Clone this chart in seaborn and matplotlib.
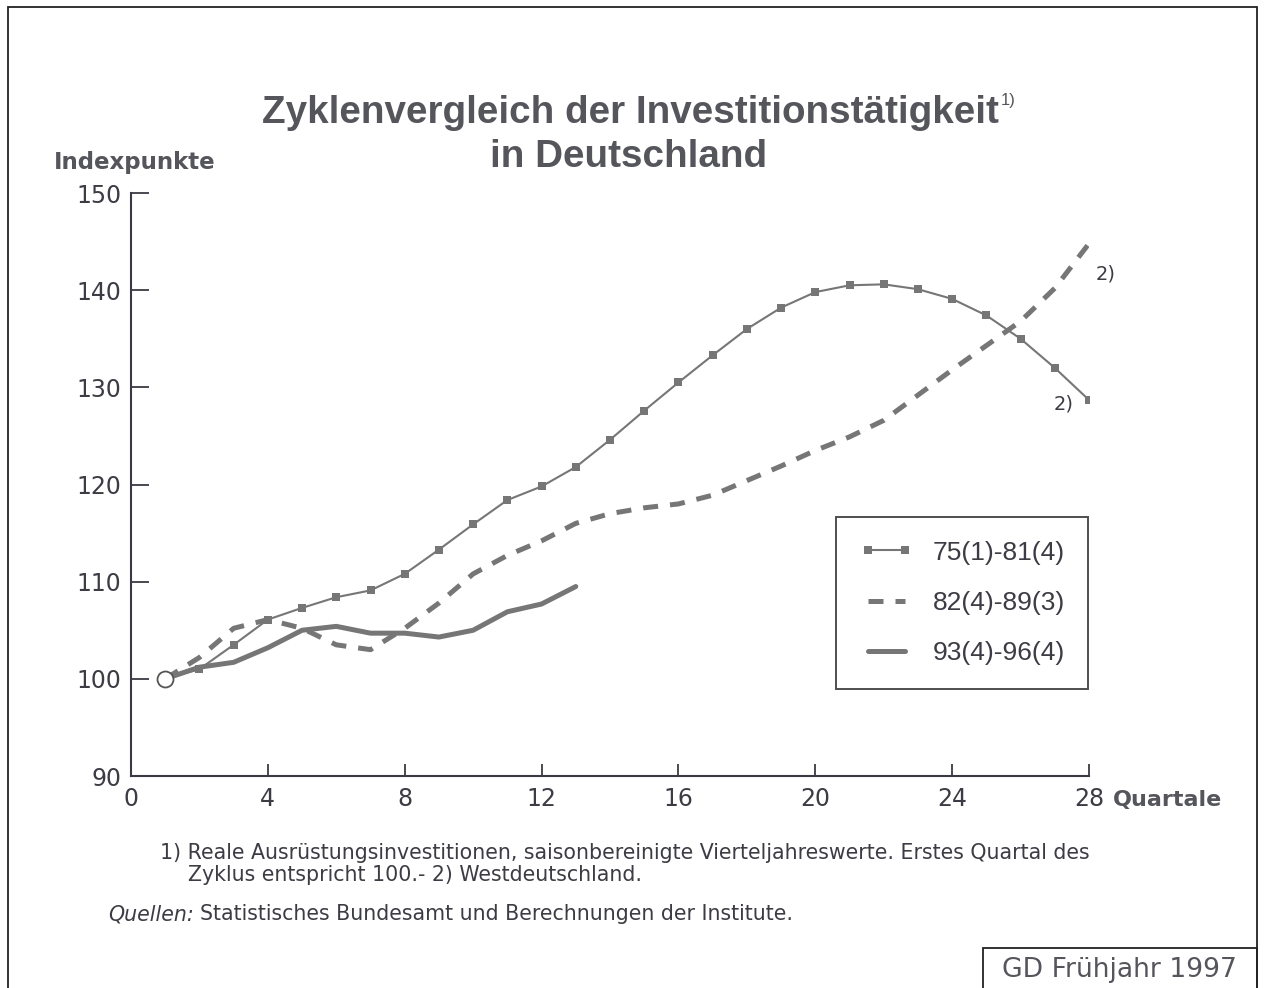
"""
Zyklenvergleich der Investitionstätigkeit in Deutschland (GD Frühjahr 1997)
Line chart of three investment cycles, index: first quarter = 100.
"""

import matplotlib
matplotlib.use("Agg")   # headless
import matplotlib.pyplot as plt
from matplotlib.patches import Rectangle
import seaborn as sns

# ─────────────────────────────────────────────────────────────────────────────
#  DATA
# ─────────────────────────────────────────────────────────────────────────────

quarters_long  = list(range(1, 29))
quarters_short = list(range(1, 14))

cycle_75_81 = [100.0, 101.0, 103.5, 106.1, 107.3, 108.4, 109.1, 110.8, 113.3, 115.9,
               118.4, 119.8, 121.8, 124.6, 127.6, 130.5, 133.3, 136.0, 138.2, 139.8,
               140.5, 140.6, 140.1, 139.1, 137.4, 135.0, 132.0, 128.7]
cycle_82_89 = [100.0, 102.2, 105.2, 106.1, 105.2, 103.5, 103.0, 105.2, 107.8, 110.8,
               112.7, 114.2, 116.0, 117.0, 117.6, 118.0, 118.9, 120.4, 121.9, 123.5,
               124.9, 126.6, 129.2, 131.8, 134.3, 136.8, 140.2, 144.8]
cycle_93_96 = [100.0, 101.2, 101.7, 103.2, 105.0, 105.4, 104.7, 104.7, 104.3, 105.0,
               106.9, 107.7, 109.5]

series_labels = ["75(1)-81(4)", "82(4)-89(3)", "93(4)-96(4)"]
x_ticks = [0, 4, 8, 12, 16, 20, 24, 28]
y_ticks = [90, 100, 110, 120, 130, 140, 150]

# ─────────────────────────────────────────────────────────────────────────────
#  STYLE
# ─────────────────────────────────────────────────────────────────────────────

sns.set_style("white")
plt.rcParams["font.family"] = ["Liberation Sans", "DejaVu Sans"]
WIDE = ["DejaVu Sans"]          # the original is letter-spaced Helvetica

LINE  = "#767676"
TEXT  = "#3c3c44"
TITLE = "#55555c"
AXIS  = "#3a3a44"

fig = plt.figure(figsize=(12.64, 9.88), dpi=100)
ax = fig.add_axes([131 / 1264, 1 - 776 / 988, 958 / 1264, 583 / 988])

# ─────────────────────────────────────────────────────────────────────────────
#  LINES
# ─────────────────────────────────────────────────────────────────────────────

sns.lineplot(x=quarters_long, y=cycle_75_81, ax=ax, color=LINE, linewidth=1.5,
             marker="s", markersize=5.5, markeredgewidth=0,
             label=series_labels[0], zorder=4)
sns.lineplot(x=quarters_long, y=cycle_82_89, ax=ax, color=LINE, linewidth=3.6,
             linestyle=(0, (3.0, 2.4)), label=series_labels[1], zorder=3)
sns.lineplot(x=quarters_short, y=cycle_93_96, ax=ax, color=LINE, linewidth=3.6,
             label=series_labels[2], zorder=3)

# common starting point (open circle)
ax.plot(quarters_long[0], cycle_75_81[0], marker="o", markersize=11.5,
        markerfacecolor="white", markeredgecolor="#555555", markeredgewidth=1.3,
        zorder=6, clip_on=False)

# footnote markers at the series ends
ax.text(28.2, 141.7, "2)", fontsize=14, family=WIDE, color=TEXT, ha="left", va="center")
ax.text(27.55, 128.3, "2)", fontsize=14, family=WIDE, color=TEXT, ha="right", va="center")

# ─────────────────────────────────────────────────────────────────────────────
#  AXES
# ─────────────────────────────────────────────────────────────────────────────

ax.set_xlim(0, 28)
ax.set_ylim(90, 150)
ax.set_xticks(x_ticks)
ax.set_yticks(y_ticks)
ax.set_xticklabels([str(t) for t in x_ticks], family=WIDE)
ax.set_yticklabels([str(t) for t in y_ticks], family=WIDE)
ax.tick_params(axis="y", left=True, direction="in", length=13, width=1.3, color=AXIS,
               labelsize=17, labelcolor=TEXT, pad=7)
ax.tick_params(axis="x", bottom=True, direction="in", length=9, width=1.3, color=AXIS,
               labelsize=17, labelcolor=TEXT, pad=8)
for side in ("top", "right"):
    ax.spines[side].set_visible(False)
for side in ("left", "bottom"):
    ax.spines[side].set_color(AXIS)
    ax.spines[side].set_linewidth(1.5)
ax.set_xlabel("")
ax.set_ylabel("")
ax.patch.set_alpha(0)

leg = ax.legend(loc="lower left", bbox_to_anchor=(0.736, 0.149), borderaxespad=0,
                fontsize=19, frameon=True, fancybox=False, numpoints=2,
                handlelength=2.0, handletextpad=0.75, labelspacing=1.0,
                borderpad=0.9)
leg.get_frame().set_edgecolor("#222222")
leg.get_frame().set_linewidth(1.4)
for t in leg.get_texts():
    t.set_color(TEXT)

# ─────────────────────────────────────────────────────────────────────────────
#  TITLES & NOTES
# ─────────────────────────────────────────────────────────────────────────────

title = fig.text(630 / 1264, 1 - 113 / 988, "Zyklenvergleich der Investitionstätigkeit",
                 fontsize=27.8, fontweight="bold", color=TITLE, ha="center", va="center")
fig.text(629 / 1264, 1 - 157 / 988, "in Deutschland",
         fontsize=27.8, fontweight="bold", color=TITLE, ha="center", va="center")

fig.canvas.draw()
bb = title.get_window_extent(fig.canvas.get_renderer())
fig.text(bb.x1 / 1264 + 0.002, 1 - 100 / 988, "1)", fontsize=12, color=TITLE,
         ha="left", va="center")

fig.text(54 / 1264, 1 - 163 / 988, "Indexpunkte", fontsize=16.5, fontweight="bold",
         family=WIDE, color=TITLE, ha="left", va="center")
fig.text(1113 / 1264, 1 - 800 / 988, "Quartale", fontsize=16, fontweight="bold",
         family=WIDE, color=TITLE, ha="left", va="center")

fig.text(160 / 1264, 1 - 853 / 988,
         "1) Reale Ausrüstungsinvestitionen, saisonbereinigte Vierteljahreswerte. "
         "Erstes Quartal des",
         fontsize=14.8, family=WIDE, color=TEXT, ha="left", va="center")
fig.text(188 / 1264, 1 - 875 / 988, "Zyklus entspricht 100.- 2) Westdeutschland.",
         fontsize=14.8, family=WIDE, color=TEXT, ha="left", va="center")
q = fig.text(108 / 1264, 1 - 914 / 988, "Quellen:", fontsize=14.8, style="italic",
             family=WIDE, color=TEXT, ha="left", va="center")
fig.canvas.draw()
qb = q.get_window_extent(fig.canvas.get_renderer())
fig.text(qb.x1 / 1264 + 0.005, 1 - 914 / 988,
         "Statistisches Bundesamt und Berechnungen der Institute.",
         fontsize=14.8, family=WIDE, color=TEXT, ha="left", va="center")

# outer frame and edition box
fig.patches.append(Rectangle((8 / 1264, -0.02), 1249 / 1264, 1.02 - 7 / 988,
                             transform=fig.transFigure, fill=False,
                             edgecolor="#222222", linewidth=1.3))
fig.patches.append(Rectangle((983 / 1264, -0.02), 274 / 1264, 0.02 + 40 / 988,
                             transform=fig.transFigure, fill=False,
                             edgecolor="#222222", linewidth=1.3))
fig.text(1119 / 1264, 1 - 970 / 988, "GD Frühjahr 1997", fontsize=19.2,
         family=WIDE, color=TITLE, ha="center", va="center")

fig.savefig("out.png", dpi=100, facecolor="white")
plt.close(fig)
